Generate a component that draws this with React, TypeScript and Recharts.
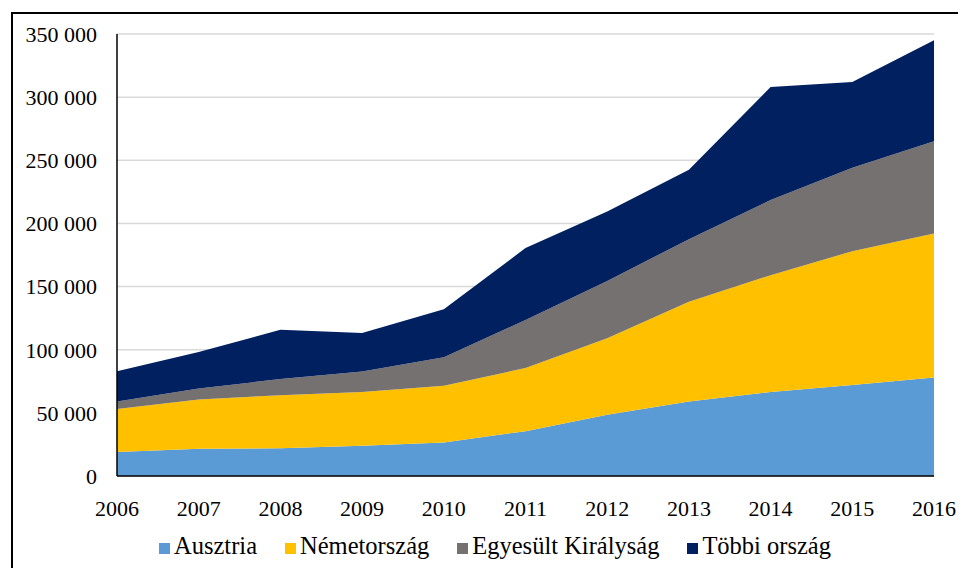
import { AreaChart, Area, XAxis, YAxis, CartesianGrid, Legend } from "recharts";

const years = ["2006", "2007", "2008", "2009", "2010", "2011", "2012", "2013", "2014", "2015", "2016"];
const ausztria = [19000, 21500, 22000, 24000, 26500, 35500, 48500, 59000, 66500, 72000, 78000];
const nemetorszag = [34000, 39000, 42000, 42500, 45000, 50000, 60500, 79000, 92500, 106000, 114000];
const egyesult = [6000, 8700, 12800, 16300, 22500, 38000, 45500, 49500, 59500, 66000, 73000];
const tobbi = [24000, 29000, 39000, 30500, 38000, 57000, 55000, 55000, 89500, 68000, 80000];
const yTicks = [0, 50000, 100000, 150000, 200000, 250000, 300000, 350000];

const series = [
  { key: "ausztria", name: "Ausztria", color: "#5B9BD5" },
  { key: "nemet", name: "Németország", color: "#FFC000" },
  { key: "egyesult", name: "Egyesült Királyság", color: "#767171" },
  { key: "tobbi", name: "Többi ország", color: "#002060" },
];

const data = years.map((year, i) => ({
  year,
  ausztria: ausztria[i],
  nemet: nemetorszag[i],
  egyesult: egyesult[i],
  tobbi: tobbi[i],
}));

const FONT = "'Liberation Serif', 'Times New Roman', serif";

const fmt = (v: number) => String(v).replace(/\B(?=(\d{3})+(?!\d))/g, " ");

function LegendContent() {
  return (
    <div
      style={{
        display: "flex",
        justifyContent: "center",
        alignItems: "center",
        gap: 28,
        paddingLeft: 16,
        fontFamily: FONT,
        fontSize: 24.5,
        color: "#000",
        height: 30,
      }}
    >
      {series.map((s) => (
        <div key={s.key} style={{ display: "flex", alignItems: "center" }}>
          <span
            style={{
              display: "inline-block",
              width: 11,
              height: 11,
              background: s.color,
              marginRight: 4,
              marginTop: 4,
            }}
          />
          <span>{s.name}</span>
        </div>
      ))}
    </div>
  );
}

export default function App() {
  return (
    <div style={{ position: "relative", width: 958, height: 560, overflow: "hidden" }}>
      <div
        style={{
          position: "absolute",
          left: 3,
          top: 4,
          width: 1000,
          height: 600,
          borderLeft: "2px solid #000",
          borderTop: "2px solid #000",
        }}
      />
      <div style={{ position: "absolute", left: 0, top: 0 }}>
        <AreaChart
          width={958}
          height={560}
          data={data}
          margin={{ top: 26, right: 32, left: 9, bottom: 12 }}
        >
          <CartesianGrid vertical={false} stroke="#d9d9d9" strokeWidth={1.5} />
          <XAxis
            dataKey="year"
            tickLine={false}
            tickSize={0}
            tickMargin={24}
            height={50}
            axisLine={{ stroke: "#000", strokeWidth: 1.5 }}
            tick={{ fill: "#000", fontSize: 22, fontFamily: FONT }}
          />
          <YAxis
            width={100}
            domain={[0, 350000]}
            ticks={yTicks}
            tickFormatter={fmt}
            tickLine={false}
            tickSize={0}
            tickMargin={20}
            axisLine={{ stroke: "#000", strokeWidth: 1.5 }}
            tick={{ fill: "#000", fontSize: 22, fontFamily: FONT }}
          />
          {series.map((s) => (
            <Area
              key={s.key}
              type="linear"
              dataKey={s.key}
              name={s.name}
              stackId="1"
              stroke="none"
              fill={s.color}
              fillOpacity={1}
              isAnimationActive={false}
            />
          ))}
          <Legend
            verticalAlign="bottom"
            content={() => <LegendContent />}
            wrapperStyle={{ top: 523, left: 0, width: 958, height: 30 }}
          />
        </AreaChart>
      </div>
    </div>
  );
}
